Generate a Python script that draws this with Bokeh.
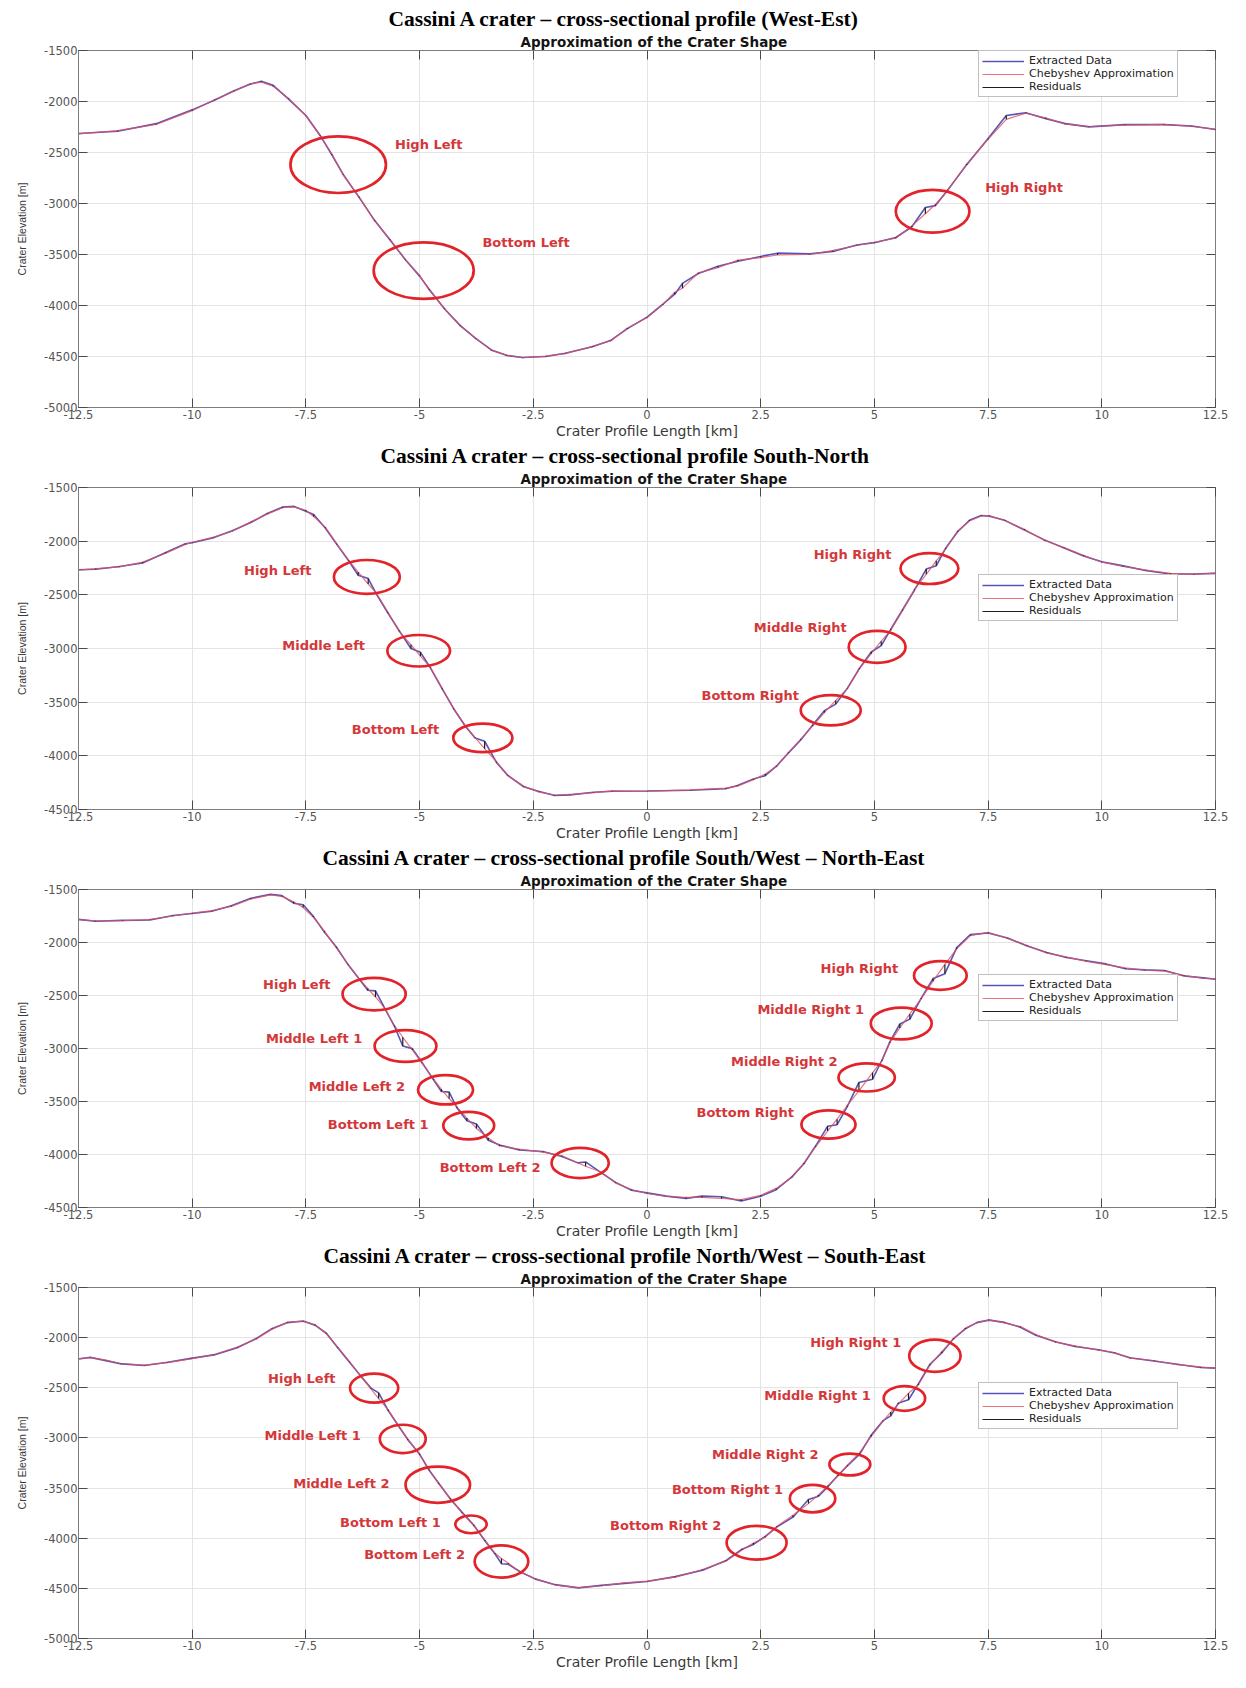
from bokeh.plotting import figure
from bokeh.models import Range1d, FixedTicker, LinearAxis, Title, Legend, LegendItem, ColumnDataSource
from bokeh.layouts import column
from bokeh.embed import file_html
from bokeh.resources import INLINE
from bokeh.core.properties import value

# ---------------- shared axis data ----------------
X_TICKS = [-12.5, -10, -7.5, -5, -2.5, 0, 2.5, 5, 7.5, 10, 12.5]
X_TICK_LABELS = ["-12.5", "-10", "-7.5", "-5", "-2.5", "0", "2.5", "5", "7.5", "10", "12.5"]
Y_TICKS = [-5000, -4500, -4000, -3500, -3000, -2500, -2000, -1500]
Y_TICK_LABELS = ["-5000", "-4500", "-4000", "-3500", "-3000", "-2500", "-2000", "-1500"]
X_LABEL = "Crater Profile Length [km]"
Y_LABEL = "Crater Elevation [m]"
SUBTITLE = "Approximation of the Crater Shape"
SERIES_NAMES = ["Extracted Data", "Chebyshev Approximation", "Residuals"]

TITLES = [
    "Cassini A crater \u2013 cross-sectional profile (West-Est)",
    "Cassini A crater \u2013 cross-sectional profile South-North",
    "Cassini A crater \u2013 cross-sectional profile South/West \u2013 North-East",
    "Cassini A crater \u2013 cross-sectional profile North/West \u2013 South-East",
]

# ---------------- panel 1: West-Est ----------------
P1_X = [-12.5, -11.64, -10.79, -10.0, -9.5, -9.08, -8.73, -8.48, -8.22, -7.88, -7.5, -7.19, -6.93, -6.68,
        -6.33, -5.99, -5.65, -5.31, -5.0, -4.79, -4.45, -4.11, -3.77, -3.42, -3.08, -2.74, -2.23, -1.8, -1.2,
        -0.79, -0.43, 0.0, 0.35, 0.61, 0.78, 1.13, 1.56, 2.0, 2.5, 2.87, 3.57, 4.09, 4.61, 5.0, 5.47, 5.82,
        6.12, 6.34, 6.6, 7.03, 7.5, 7.9, 8.33, 8.77, 9.2, 9.72, 10.5, 11.37, 11.98, 12.5]
P1_EXT = [-2313, -2291, -2217, -2082, -1985, -1895, -1831, -1802, -1841, -1976, -2137, -2330, -2522, -2715,
          -2940, -3165, -3358, -3551, -3712, -3841, -4034, -4195, -4323, -4436, -4490, -4510, -4500, -4468, -4404,
          -4340, -4227, -4114, -3986, -3889, -3783, -3686, -3616, -3567, -3519, -3487, -3494, -3471, -3407, -3384,
          -3333, -3230, -3040, -3021, -2876, -2619, -2362, -2137, -2111, -2170, -2217, -2249, -2227, -2227, -2240,
          -2275]
P1_CHEB = [-2318, -2285, -2225, -2090, -1980, -1900, -1826, -1810, -1850, -1970, -2140, -2335, -2515, -2720,
           -2935, -3170, -3352, -3556, -3705, -3848, -4030, -4200, -4318, -4440, -4486, -4512, -4496, -4472, -4400,
           -4345, -4220, -4120, -3990, -3870, -3830, -3680, -3630, -3555, -3530, -3505, -3500, -3460, -3412, -3380,
           -3340, -3222, -3100, -3010, -2880, -2612, -2370, -2175, -2115, -2160, -2222, -2245, -2232, -2224, -2245,
           -2270]
P1_ELL_X = [-6.79, -4.91, 6.28]
P1_ELL_Y = [-2619, -3658, -3076]
P1_ELL_W = [2.1, 2.2, 1.62]
P1_ELL_H = [556, 556, 421]
P1_LAB = ["High Left", "Bottom Left", "High Right"]
P1_LAB_X = [-4.8, -2.66, 8.29]
P1_LAB_Y = [-2426, -3384, -2844]

# ---------------- panel 2: South-North ----------------
P2_X = [-12.5, -12.12, -11.6, -11.09, -10.58, -10.15, -10.0, -9.55, -9.12, -8.7, -8.35, -8.01, -7.76, -7.5,
        -7.33, -7.07, -6.82, -6.56, -6.35, -6.13, -5.96, -5.7, -5.45, -5.19, -4.98, -4.76, -4.5, -4.25, -3.99,
        -3.78, -3.57, -3.31, -3.06, -2.71, -2.37, -2.03, -1.69, -1.17, -0.76, 0.0, 0.95, 1.73, 1.99, 2.34, 2.6,
        2.85, 3.11, 3.38, 3.64, 3.9, 4.15, 4.41, 4.67, 4.93, 5.15, 5.36, 5.62, 5.88, 6.14, 6.36, 6.57, 6.83,
        7.09, 7.35, 7.53, 7.87, 8.3, 8.74, 9.17, 9.6, 10.0, 10.47, 10.99, 11.51, 12.02, 12.5]
P2_EXT = [-2267, -2261, -2236, -2203, -2106, -2024, -2015, -1970, -1903, -1824, -1742, -1682, -1676, -1721,
          -1752, -1879, -2030, -2182, -2318, -2348, -2485, -2667, -2833, -3000, -3036, -3182, -3379, -3561, -3727,
          -3833, -3864, -4061, -4182, -4288, -4333, -4370, -4364, -4339, -4330, -4327, -4321, -4306, -4276, -4215,
          -4185, -4094, -3973, -3852, -3715, -3579, -3518, -3367, -3185, -3033, -2973, -2821, -2639, -2457, -2260,
          -2230, -2063, -1912, -1806, -1761, -1767, -1806, -1897, -1988, -2064, -2139, -2191, -2230, -2276, -2306,
          -2306, -2300]
P2_CHEB = [-2270, -2255, -2240, -2195, -2112, -2030, -2010, -1965, -1908, -1818, -1748, -1688, -1680, -1712,
           -1770, -1872, -2025, -2178, -2288, -2399, -2480, -2660, -2840, -2965, -3071, -3178, -3372, -3566, -3720,
           -3830, -3933, -4055, -4186, -4284, -4338, -4365, -4360, -4343, -4326, -4330, -4318, -4300, -4282, -4222,
           -4170, -4100, -3968, -3845, -3722, -3597, -3484, -3372, -3190, -3048, -2932, -2830, -2645, -2450, -2309,
           -2183, -2070, -1905, -1812, -1765, -1762, -1810, -1890, -1994, -2060, -2132, -2196, -2236, -2270, -2300,
           -2310, -2298]
P2_ELL_X = [-6.16, -5.02, -3.61, 6.21, 5.06, 4.04]
P2_ELL_Y = [-2333, -3021, -3833, -2255, -2985, -3576]
P2_ELL_W = [1.45, 1.38, 1.3, 1.27, 1.25, 1.32]
P2_ELL_H = [315, 294, 267, 288, 297, 282]
P2_LAB = ["High Left", "Middle Left", "Bottom Left", "High Right", "Middle Right", "Bottom Right"]
P2_LAB_X = [-8.12, -7.11, -5.53, 4.52, 3.37, 2.27]
P2_LAB_Y = [-2273, -2970, -3758, -2127, -2809, -3439]

# ---------------- panel 3: South/West - North-East ----------------
P3_X = [-12.5, -12.13, -11.53, -10.93, -10.42, -10.0, -9.57, -9.14, -8.71, -8.28, -8.03, -7.77, -7.56, -7.34,
        -7.09, -6.83, -6.57, -6.32, -6.14, -5.97, -5.8, -5.55, -5.37, -5.16, -4.95, -4.69, -4.52, -4.35, -4.18,
        -3.96, -3.75, -3.49, -3.24, -2.81, -2.29, -1.87, -1.52, -1.35, -1.01, -0.69, -0.34, 0.0, 0.43, 0.86,
        1.21, 1.64, 2.07, 2.5, 2.84, 3.19, 3.45, 3.71, 3.97, 4.18, 4.4, 4.66, 4.96, 5.17, 5.34, 5.56, 5.78,
        6.03, 6.29, 6.55, 6.81, 7.11, 7.5, 7.93, 8.36, 8.79, 9.22, 9.66, 10.09, 10.52, 10.95, 11.38, 11.81,
        12.24, 12.5]
P3_EXT = [-1782, -1800, -1791, -1788, -1745, -1727, -1705, -1653, -1583, -1546, -1558, -1629, -1644, -1751,
          -1904, -2042, -2211, -2349, -2450, -2456, -2594, -2793, -2977, -3001, -3130, -3298, -3406, -3412, -3559,
          -3681, -3712, -3865, -3911, -3957, -3972, -4018, -4079, -4070, -4171, -4263, -4337, -4362, -4393, -4414,
          -4393, -4399, -4439, -4393, -4332, -4209, -4087, -3918, -3734, -3719, -3550, -3320, -3290, -3106, -2938,
          -2769, -2723, -2524, -2340, -2294, -2048, -1926, -1911, -1957, -2034, -2095, -2141, -2172, -2202, -2248,
          -2258, -2264, -2316, -2334, -2346]
P3_CHEB = [-1785, -1795, -1795, -1782, -1750, -1722, -1700, -1660, -1590, -1550, -1565, -1615, -1670, -1760,
           -1895, -2050, -2205, -2345, -2434, -2514, -2600, -2785, -2894, -3012, -3135, -3290, -3385, -3472, -3550,
           -3656, -3754, -3845, -3920, -3950, -3978, -4012, -4080, -4111, -4165, -4270, -4330, -4368, -4396, -4405,
           -4405, -4415, -4425, -4385, -4320, -4215, -4080, -3925, -3779, -3667, -3540, -3400, -3227, -3115, -2945,
           -2806, -2674, -2530, -2365, -2207, -2060, -1935, -1905, -1962, -2028, -2100, -2136, -2178, -2208, -2240,
           -2262, -2270, -2310, -2338, -2342]
P3_ELL_X = [-6.0, -5.31, -4.43, -3.92, -1.47, 6.45, 5.59, 4.83, 3.99]
P3_ELL_Y = [-2487, -2977, -3390, -3727, -4080, -2311, -2764, -3273, -3717]
P3_ELL_W = [1.39, 1.36, 1.21, 1.12, 1.26, 1.16, 1.34, 1.24, 1.19]
P3_ELL_H = [306, 300, 276, 260, 285, 272, 300, 266, 266]
P3_LAB = ["High Left", "Middle Left 1", "Middle Left 2", "Bottom Left 1", "Bottom Left 2",
          "High Right", "Middle Right 1", "Middle Right 2", "Bottom Right"]
P3_LAB_X = [-7.7, -7.32, -6.38, -5.91, -3.45, 4.67, 3.6, 3.02, 2.16]
P3_LAB_Y = [-2392, -2903, -3357, -3715, -4120, -2243, -2632, -3125, -3600]

# ---------------- panel 4: North/West - South-East ----------------
P4_X = [-12.5, -12.24, -11.9, -11.56, -11.05, -10.54, -10.03, -9.52, -9.01, -8.58, -8.24, -7.9, -7.56, -7.3,
        -7.05, -6.8, -6.54, -6.28, -6.07, -5.9, -5.69, -5.43, -5.26, -5.0, -4.79, -4.58, -4.32, -4.07, -3.81,
        -3.56, -3.34, -3.2, -3.05, -2.79, -2.45, -2.02, -1.51, -1.0, -0.5, 0.0, 0.62, 1.22, 1.74, 2.09, 2.34,
        2.6, 2.86, 3.21, 3.55, 3.77, 3.98, 4.2, 4.41, 4.67, 4.93, 5.19, 5.36, 5.53, 5.75, 5.97, 6.22, 6.48,
        6.74, 7.0, 7.26, 7.52, 7.86, 8.21, 8.55, 8.98, 9.41, 9.93, 10.28, 10.62, 11.14, 11.66, 12.17, 12.5]
P4_EXT = [-2213, -2197, -2229, -2262, -2278, -2246, -2207, -2172, -2101, -2005, -1908, -1850, -1834, -1876,
          -1956, -2101, -2246, -2390, -2503, -2551, -2728, -2904, -3017, -3161, -3322, -3451, -3611, -3740, -3868,
          -4029, -4157, -4254, -4260, -4334, -4408, -4463, -4495, -4470, -4450, -4431, -4383, -4319, -4222, -4110,
          -4062, -3982, -3886, -3790, -3614, -3581, -3485, -3373, -3277, -3165, -2972, -2828, -2780, -2651, -2619,
          -2459, -2266, -2153, -2009, -1912, -1848, -1825, -1848, -1896, -1976, -2040, -2088, -2120, -2153, -2201,
          -2233, -2265, -2297, -2304]
P4_CHEB = [-2210, -2200, -2225, -2258, -2275, -2250, -2212, -2168, -2095, -2012, -1915, -1845, -1838, -1870,
           -1962, -2095, -2240, -2395, -2510, -2608, -2720, -2900, -3010, -3168, -3315, -3458, -3605, -3746, -3875,
           -4020, -4150, -4202, -4250, -4338, -4404, -4467, -4492, -4474, -4446, -4428, -4388, -4312, -4228, -4118,
           -4047, -3990, -3880, -3770, -3655, -3568, -3475, -3380, -3270, -3150, -2985, -2833, -2742, -2660, -2555,
           -2470, -2275, -2140, -2015, -1905, -1852, -1822, -1852, -1890, -1970, -2045, -2082, -2125, -2148, -2205,
           -2228, -2270, -2292, -2306]
P4_ELL_X = [-6.0, -5.37, -4.6, -3.87, -3.2, 6.33, 5.66, 4.46, 3.64, 2.41]
P4_ELL_Y = [-2503, -3010, -3467, -3862, -4232, -2181, -2606, -3265, -3605, -4045]
P4_ELL_W = [1.06, 1.01, 1.42, 0.69, 1.18, 1.13, 0.91, 0.9, 1.0, 1.32]
P4_ELL_H = [289, 283, 360, 177, 321, 321, 247, 218, 273, 337]
P4_LAB = ["High Left", "Middle Left 1", "Middle Left 2", "Bottom Left 1", "Bottom Left 2",
          "High Right 1", "Middle Right 1", "Middle Right 2", "Bottom Right 1", "Bottom Right 2"]
P4_LAB_X = [-7.59, -7.35, -6.72, -5.64, -5.11, 4.59, 3.75, 2.6, 1.77, 0.41]
P4_LAB_Y = [-2403, -2975, -3451, -3846, -4158, -2044, -2574, -3169, -3517, -3878]

# ---------------- styling / layout ----------------
BLUE = "#4343b3"
RED = "#e4505c"
RES = "#1e1e1e"
ELL_RED = "#e2232a"
LAB_RED = "#d4373a"
FRAME = "#7d7d7d"
TICK_TXT = "#555555"

PANELS = [
    dict(title=TITLES[0], x=P1_X, ext=P1_EXT, cheb=P1_CHEB, ex=P1_ELL_X, ey=P1_ELL_Y, ew=P1_ELL_W, eh=P1_ELL_H,
         lab=P1_LAB, lx=P1_LAB_X, ly=P1_LAB_Y, ymin=-5000, h=441, bt=50, bb=32, toff=310, leg=(900, 310)),
    dict(title=TITLES[1], x=P2_X, ext=P2_EXT, cheb=P2_CHEB, ex=P2_ELL_X, ey=P2_ELL_Y, ew=P2_ELL_W, eh=P2_ELL_H,
         lab=P2_LAB, lx=P2_LAB_X, ly=P2_LAB_Y, ymin=-4500, h=402, bt=42, bb=33, toff=302, leg=(900, 188)),
    dict(title=TITLES[2], x=P3_X, ext=P3_EXT, cheb=P3_CHEB, ex=P3_ELL_X, ey=P3_ELL_Y, ew=P3_ELL_W, eh=P3_ELL_H,
         lab=P3_LAB, lx=P3_LAB_X, ly=P3_LAB_Y, ymin=-4500, h=398, bt=41, bb=34, toff=244, leg=(900, 186)),
    dict(title=TITLES[3], x=P4_X, ext=P4_EXT, cheb=P4_CHEB, ex=P4_ELL_X, ey=P4_ELL_Y, ew=P4_ELL_W, eh=P4_ELL_H,
         lab=P4_LAB, lx=P4_LAB_X, ly=P4_LAB_Y, ymin=-5000, h=431, bt=41, bb=32, toff=245, leg=(900, 209)),
]


def make_panel(c):
    yt = [t for t in Y_TICKS if t >= c["ymin"]]
    ytl = {t: l for t, l in zip(Y_TICKS, Y_TICK_LABELS) if t >= c["ymin"]}
    p = figure(width=1230, height=c["h"], x_range=Range1d(-12.5, 12.5), y_range=Range1d(c["ymin"], -1500),
               output_backend="svg", toolbar_location=None, title=None,
               min_border_left=78, min_border_right=15, min_border_top=c["bt"], min_border_bottom=c["bb"])
    p.background_fill_color = "white"
    p.border_fill_color = "white"
    p.outline_line_color = FRAME
    p.outline_line_width = 1

    # grid
    p.xgrid.ticker = FixedTicker(ticks=X_TICKS)
    p.ygrid.ticker = FixedTicker(ticks=yt)
    p.xgrid.grid_line_color = "#e4e4e4"
    p.ygrid.grid_line_color = "#e4e4e4"

    # bottom axis
    xa = p.xaxis[0]
    xa.ticker = FixedTicker(ticks=X_TICKS)
    xa.major_label_overrides = {t: l for t, l in zip(X_TICKS, X_TICK_LABELS)}
    xa.axis_label = X_LABEL
    xa.axis_label_text_font = "DejaVu Sans"
    xa.axis_label_text_font_size = "14px"
    xa.axis_label_text_font_style = "normal"
    xa.axis_label_text_color = "#3a3a3a"
    xa.axis_label_standoff = 1
    xa.major_label_text_font = "DejaVu Sans"
    xa.major_label_text_font_size = "11.5px"
    xa.major_label_text_color = TICK_TXT
    xa.major_label_standoff = 2

    # left axis
    ya = p.yaxis[0]
    ya.ticker = FixedTicker(ticks=yt)
    ya.major_label_overrides = ytl
    ya.axis_label = Y_LABEL
    ya.axis_label_text_font = "Liberation Sans"
    ya.axis_label_text_font_size = "10.5px"
    ya.axis_label_text_font_style = "normal"
    ya.axis_label_text_color = "#3a3a3a"
    ya.axis_label_standoff = 13
    ya.major_label_text_font = "DejaVu Sans"
    ya.major_label_text_font_size = "11.5px"
    ya.major_label_text_color = TICK_TXT
    ya.major_label_standoff = 1

    for ax in (xa, ya):
        ax.major_tick_in = 9
        ax.major_tick_out = 0
        ax.minor_tick_line_color = None
        ax.axis_line_color = FRAME
        ax.major_tick_line_color = "#4a4a4a"

    # inward ticks on top and right (MATLAB-like box)
    top = LinearAxis(ticker=FixedTicker(ticks=X_TICKS), major_label_text_font_size="0px",
                     major_label_overrides={t: "" for t in X_TICKS},
                     major_tick_in=9, major_tick_out=0, minor_tick_line_color=None,
                     axis_line_color=None, major_label_standoff=0, major_tick_line_color="#4a4a4a")
    right = LinearAxis(ticker=FixedTicker(ticks=yt), major_label_text_font_size="0px",
                       major_label_overrides={t: "" for t in yt},
                       major_tick_in=9, major_tick_out=0, minor_tick_line_color=None,
                       axis_line_color=None, major_label_standoff=0, major_tick_line_color="#4a4a4a")
    p.add_layout(top, "above")
    p.add_layout(right, "right")

    # titles (inner first)
    p.add_layout(Title(text=SUBTITLE, align="left", offset=442, text_font="DejaVu Sans", text_font_size="13.5px",
                       text_font_style="bold", text_color="#141414", standoff=1), "above")
    p.add_layout(Title(text=c["title"], align="left", offset=c["toff"], text_font="Liberation Serif",
                       text_font_size="21.5px", text_font_style="bold", text_color="#000000", standoff=1), "above")

    src = ColumnDataSource(dict(x=c["x"], ext=c["ext"], cheb=c["cheb"]))
    r_ext = p.line("x", "ext", source=src, line_color=BLUE, line_width=1.6, line_alpha=0.9)
    r_cheb = p.line("x", "cheb", source=src, line_color=RED, line_width=1.2, line_alpha=0.8)
    r_res = p.segment(x0="x", y0="ext", x1="x", y1="cheb", source=src, line_color=RES, line_width=1.2)

    esrc = ColumnDataSource(dict(x=c["ex"], y=c["ey"], w=c["ew"], h=c["eh"]))
    p.ellipse(x="x", y="y", width="w", height="h", source=esrc, fill_color=None,
              line_color=ELL_RED, line_width=2.7)

    lsrc = ColumnDataSource(dict(x=c["lx"], y=c["ly"], t=c["lab"]))
    p.text(x="x", y="y", text="t", source=lsrc, text_font=value("DejaVu Sans"), text_font_style="bold",
           text_font_size="13px", text_color=LAB_RED, text_align="center", text_baseline="middle")

    legend = Legend(items=[LegendItem(label=SERIES_NAMES[0], renderers=[r_ext]),
                           LegendItem(label=SERIES_NAMES[1], renderers=[r_cheb]),
                           LegendItem(label=SERIES_NAMES[2], renderers=[r_res])],
                    location=c["leg"], label_text_font="DejaVu Sans", label_text_font_size="11px",
                    label_text_color="#222222", glyph_width=42, glyph_height=10, label_height=10,
                    label_standoff=5, spacing=0, padding=3, margin=0,
                    border_line_color="#808080", border_line_width=1,
                    background_fill_color="white", background_fill_alpha=1)
    p.add_layout(legend)
    return p


panels = [make_panel(c) for c in PANELS]
layout = column(*panels)
open("out.html", "w").write(file_html(layout, INLINE))
